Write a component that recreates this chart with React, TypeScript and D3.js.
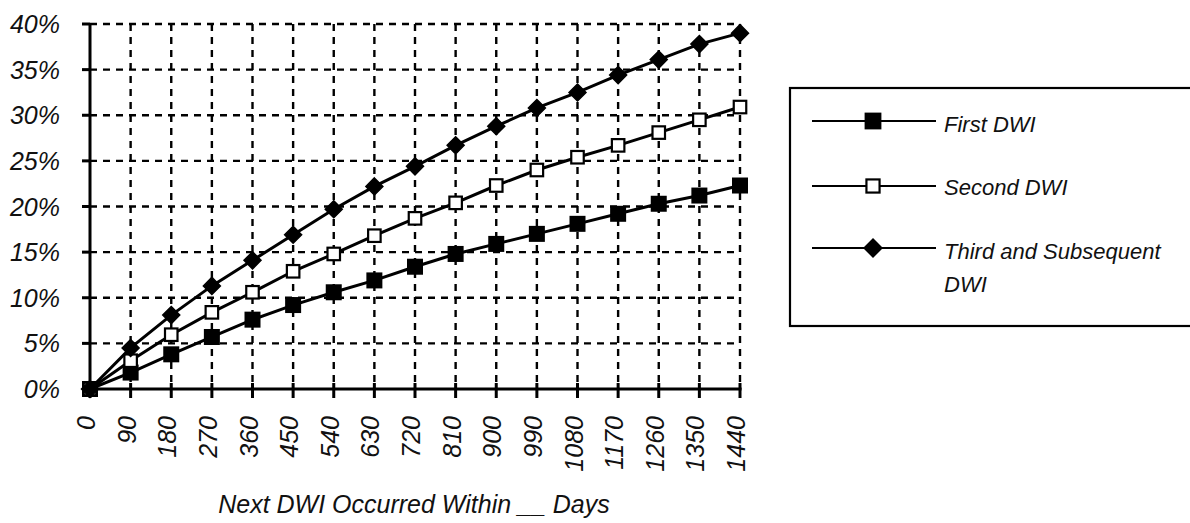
import React from "react";
import * as d3 from "d3";

// Days since prior DWI conviction (x-axis categories)
const days = [0, 90, 180, 270, 360, 450, 540, 630, 720, 810, 900, 990, 1080, 1170, 1260, 1350, 1440];

// Cumulative share with a next DWI, in percent
const firstDWI = [0, 1.8, 3.8, 5.7, 7.6, 9.2, 10.6, 11.9, 13.4, 14.8, 15.9, 17.0, 18.1, 19.2, 20.3, 21.2, 22.3];
const secondDWI = [0, 3.1, 5.95, 8.4, 10.6, 12.9, 14.8, 16.8, 18.7, 20.4, 22.3, 24.0, 25.4, 26.7, 28.1, 29.5, 30.9];
const thirdDWI = [0, 4.5, 8.1, 11.3, 14.1, 16.9, 19.7, 22.2, 24.4, 26.7, 28.8, 30.8, 32.5, 34.4, 36.1, 37.8, 39.0];

const yTicks = [0, 5, 10, 15, 20, 25, 30, 35, 40];

const seriesNames = ["First DWI", "Second DWI", "Third and Subsequent DWI"];

type MarkerKind = "filled" | "open" | "diamond";

const series: { name: string; values: number[]; marker: MarkerKind }[] = [
  { name: seriesNames[0], values: firstDWI, marker: "filled" },
  { name: seriesNames[1], values: secondDWI, marker: "open" },
  { name: seriesNames[2], values: thirdDWI, marker: "diamond" },
];

const FONT = "'Liberation Sans', Arial, sans-serif";

function Marker({ kind, x, y, scale = 1 }: { kind: MarkerKind; x: number; y: number; scale?: number }) {
  if (kind === "filled") {
    const s = 16 * scale;
    return <rect x={x - s / 2} y={y - s / 2} width={s} height={s} fill="#000" />;
  }
  if (kind === "open") {
    const s = 12.5 * scale;
    return <rect x={x - s / 2} y={y - s / 2} width={s} height={s} fill="#fff" stroke="#000" strokeWidth={2.2} />;
  }
  const r = 8.5 * scale;
  return (
    <path
      d={`M${x},${y - r}L${x + r},${y}L${x},${y + r}L${x - r},${y}Z`}
      fill="#000"
      stroke="#000"
      strokeWidth={1.5}
    />
  );
}

export default function App() {
  const width = 1190;
  const height = 523;

  const x = d3.scaleLinear().domain([0, 1440]).range([90, 740]);
  const y = d3.scaleLinear().domain([0, 40]).range([389, 24]);

  const line = d3
    .line<number>()
    .x((_, i) => x(days[i]))
    .y((v) => y(v));

  const legendRows = [
    { kind: "filled" as MarkerKind, lineY: 121, lines: ["First DWI"], baseY: 132 },
    { kind: "open" as MarkerKind, lineY: 186, lines: ["Second DWI"], baseY: 195 },
    { kind: "diamond" as MarkerKind, lineY: 248, lines: ["Third and Subsequent", "DWI"], baseY: 259 },
  ];

  return (
    <svg
      width={width}
      height={height}
      style={{ position: "absolute", left: 0, top: 0, background: "#fff" }}
      fontFamily={FONT}
    >
      {/* dashed grid */}
      <g stroke="#000" strokeWidth={2.4} strokeDasharray="7,6">
        {yTicks
          .filter((t) => t > 0)
          .map((t) => (
            <line key={`h${t}`} x1={x(0)} x2={x(1440)} y1={y(t)} y2={y(t)} />
          ))}
        {days
          .filter((d) => d > 0)
          .map((d) => (
            <line key={`v${d}`} x1={x(d)} x2={x(d)} y1={y(40)} y2={y(0)} />
          ))}
      </g>

      {/* axes */}
      <g stroke="#000" strokeWidth={3}>
        <line x1={x(0)} x2={x(0)} y1={y(40) - 1} y2={y(0)} />
        <line x1={x(0)} x2={x(1440) + 1.5} y1={y(0)} y2={y(0)} />
        {yTicks.map((t) => (
          <line key={`yt${t}`} x1={x(0) - 8} x2={x(0)} y1={y(t)} y2={y(t)} />
        ))}
        {days.map((d) => (
          <line key={`xt${d}`} x1={x(d)} x2={x(d)} y1={y(0) - 6} y2={y(0) + 9} />
        ))}
      </g>

      {/* y tick labels */}
      <g fontSize={25} fontStyle="italic" fill="#111" textAnchor="end">
        {yTicks.map((t) => (
          <text key={`yl${t}`} x={60} y={y(t)} dy="0.36em">
            {`${t}%`}
          </text>
        ))}
      </g>

      {/* x tick labels, rotated */}
      <g fontSize={25} fontStyle="italic" fill="#111" textAnchor="end">
        {days.map((d) => (
          <text key={`xl${d}`} transform={`translate(${x(d) + 5},${416}) rotate(-90)`}>
            {d}
          </text>
        ))}
      </g>

      {/* x axis title */}
      <text x={414} y={513} fontSize={25} fontStyle="italic" fill="#111" textAnchor="middle">
        Next DWI Occurred Within __ Days
      </text>

      {/* series */}
      {series.map((s) => (
        <g key={s.name}>
          <path d={line(s.values) || ""} fill="none" stroke="#000" strokeWidth={3} />
          {s.values.map((v, i) => (
            <Marker key={i} kind={s.marker} x={x(days[i])} y={y(v)} />
          ))}
        </g>
      ))}

      {/* legend */}
      <rect x={790} y={88} width={410} height={238} fill="#fff" stroke="#000" strokeWidth={2.2} />
      {legendRows.map((r) => (
        <g key={r.lineY}>
          <line x1={812} x2={936} y1={r.lineY} y2={r.lineY} stroke="#000" strokeWidth={2.2} />
          <Marker kind={r.kind} x={873} y={r.lineY} scale={r.kind === "open" ? 1.05 : 1.05} />
          {r.lines.map((t, i) => (
            <text key={t} x={944} y={r.baseY + i * 32.7} fontSize={22} fontStyle="italic" fill="#111">
              {t}
            </text>
          ))}
        </g>
      ))}
    </svg>
  );
}
